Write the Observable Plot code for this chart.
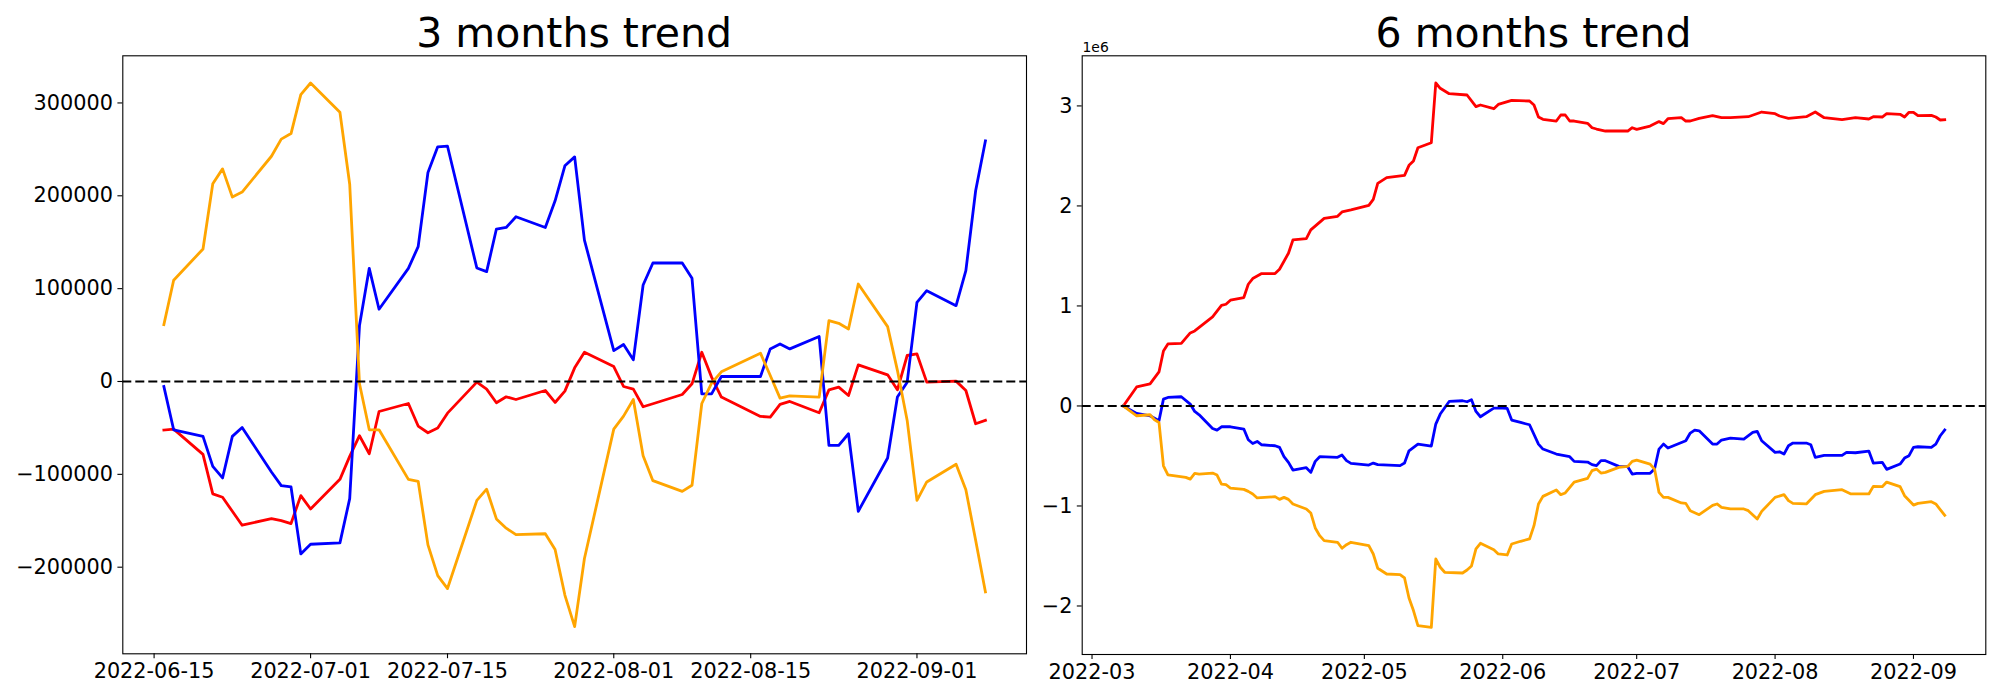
<!DOCTYPE html>
<html>
<head>
<meta charset="utf-8">
<script src="https://cdn.jsdelivr.net/npm/d3@7"></script>
<script src="https://cdn.jsdelivr.net/npm/@observablehq/plot@0.6"></script>
<style>
  html, body { margin: 0; padding: 0; background: #ffffff; }
  #fig { position: relative; width: 2000px; height: 700px; background: #ffffff; font-family: "DejaVu Sans", sans-serif; }
  #fig > .panel { position: absolute; top: 0; }
  #fig svg { overflow: visible; }
  #overlay { position: absolute; left: 0; top: 0; pointer-events: none; }
</style>
</head>
<body>
<div id="fig"></div>
<script>
// ---------------- 3 months trend (left panel) ----------------
const leftDates = ["2022-06-16","2022-06-17","2022-06-20","2022-06-21","2022-06-22","2022-06-23","2022-06-24","2022-06-27","2022-06-28","2022-06-29","2022-06-30",
  "2022-07-01","2022-07-04","2022-07-05","2022-07-06","2022-07-07","2022-07-08","2022-07-11","2022-07-12","2022-07-13","2022-07-14","2022-07-15","2022-07-18","2022-07-19","2022-07-20","2022-07-21","2022-07-22","2022-07-25","2022-07-26","2022-07-27","2022-07-28","2022-07-29",
  "2022-08-01","2022-08-02","2022-08-03","2022-08-04","2022-08-05","2022-08-08","2022-08-09","2022-08-10","2022-08-11","2022-08-12","2022-08-16","2022-08-17","2022-08-18","2022-08-19","2022-08-22","2022-08-23","2022-08-24","2022-08-25","2022-08-26","2022-08-29","2022-08-30","2022-08-31",
  "2022-09-01","2022-09-02","2022-09-05","2022-09-06","2022-09-07","2022-09-08"];

const leftRed = [-52300,-51300,-78500,-121100,-124700,-139800,-154800,-147700,-149800,-153000,-122900,
  -137300,-105400,-80600,-58400,-77800,-32300,-23700,-48000,-55200,-50200,-34100,-700,-8200,-22900,-16500,-19400,-9700,-22600,-10400,14700,31500,
  16100,-5400,-8200,-27200,-24000,-14000,-2500,31500,4700,-16800,-37600,-38400,-24700,-21500,-33700,-9000,-6100,-15100,17900,7200,-9000,28000,
  29700,-700,400,-9700,-45500,-41900];

const leftBlue = [-5400,-52000,-59100,-91400,-103900,-59100,-49500,-97500,-112200,-113600,-185700,
  -175300,-173800,-126200,60200,121900,77800,121900,145200,225100,252700,253400,122200,118300,164200,165900,177400,165900,194600,232300,241900,152300,
  33300,39800,23300,103900,127600,127600,111100,-13300,-13300,5400,5400,35100,40500,35100,48400,-68800,-68800,-56300,-139800,-82400,-16800,-700,
  85300,97800,81700,119400,205400,259100];

const leftOrange = [61300,109000,142700,213000,229000,198600,204000,242600,261000,267000,309000,
  321500,290000,212500,-2500,-52000,-52000,-105400,-107500,-176000,-209000,-223000,-128000,-116000,-148000,-158000,-165000,-164000,-181000,-230000,-264000,-190700,
  -51300,-37300,-19400,-80000,-106800,-118300,-111800,-23700,-1800,10400,30500,6500,-17900,-15400,-16800,65600,62700,56600,105000,59100,12000,-41900,
  -128000,-108200,-89200,-116500,-171000,-226500];

const leftXTicks = ["2022-06-15","2022-07-01","2022-07-15","2022-08-01","2022-08-15","2022-09-01"];
const leftYTicks = [-200000,-100000,0,100000,200000,300000];

// ---------------- 6 months trend (right panel), values in millions (1e6) ----------------
const rightRedDates = ["2022-03-08","2022-03-11","2022-03-14","2022-03-16","2022-03-17","2022-03-18","2022-03-21","2022-03-23","2022-03-24","2022-03-28","2022-03-30","2022-03-31",
  "2022-04-01","2022-04-04","2022-04-05","2022-04-06","2022-04-08","2022-04-11","2022-04-12","2022-04-14","2022-04-15","2022-04-18","2022-04-19","2022-04-22","2022-04-25","2022-04-26","2022-04-28",
  "2022-05-02","2022-05-03","2022-05-04","2022-05-06","2022-05-10","2022-05-11","2022-05-12","2022-05-13","2022-05-16","2022-05-17","2022-05-18","2022-05-20","2022-05-24","2022-05-26","2022-05-27","2022-05-30","2022-05-31",
  "2022-06-03","2022-06-07","2022-06-08","2022-06-09","2022-06-10","2022-06-13","2022-06-14","2022-06-15","2022-06-16","2022-06-17","2022-06-20","2022-06-21","2022-06-22","2022-06-24","2022-06-29","2022-06-30",
  "2022-07-01","2022-07-04","2022-07-06","2022-07-07","2022-07-08","2022-07-11","2022-07-12","2022-07-13","2022-07-15","2022-07-18","2022-07-20","2022-07-22","2022-07-26","2022-07-29",
  "2022-08-01","2022-08-02","2022-08-04","2022-08-08","2022-08-10","2022-08-12","2022-08-16","2022-08-19","2022-08-22","2022-08-23","2022-08-25","2022-08-26","2022-08-29","2022-08-30","2022-08-31",
  "2022-09-01","2022-09-02","2022-09-05","2022-09-06","2022-09-07","2022-09-08"];
const rightRed = [0,0.19,0.22,0.34,0.55,0.62,0.625,0.73,0.75,0.89,1.005,1.017,
  1.057,1.084,1.217,1.274,1.324,1.324,1.367,1.527,1.66,1.673,1.76,1.876,1.896,1.94,1.96,
  2.006,2.066,2.226,2.283,2.306,2.406,2.449,2.582,2.632,3.229,3.176,3.122,3.109,2.993,3.009,2.972,3.015,
  3.056,3.049,3.009,2.889,2.866,2.849,2.909,2.909,2.849,2.849,2.826,2.782,2.769,2.749,2.749,2.782,
  2.766,2.799,2.843,2.823,2.872,2.882,2.849,2.849,2.876,2.902,2.882,2.882,2.892,2.939,
  2.922,2.899,2.876,2.892,2.939,2.882,2.862,2.882,2.869,2.892,2.889,2.922,2.916,2.889,2.936,
  2.936,2.902,2.906,2.889,2.859,2.862];

const rightBlueDates = ["2022-03-08","2022-03-11","2022-03-14","2022-03-16","2022-03-17","2022-03-18","2022-03-21","2022-03-23","2022-03-24","2022-03-25","2022-03-28","2022-03-29","2022-03-30",
  "2022-04-01","2022-04-04","2022-04-05","2022-04-06","2022-04-07","2022-04-08","2022-04-11","2022-04-12","2022-04-13","2022-04-14","2022-04-15","2022-04-18","2022-04-19","2022-04-20","2022-04-21","2022-04-25","2022-04-26","2022-04-27","2022-04-28",
  "2022-05-02","2022-05-03","2022-05-04","2022-05-09","2022-05-10","2022-05-11","2022-05-13","2022-05-16","2022-05-17","2022-05-18","2022-05-20","2022-05-23","2022-05-24","2022-05-25","2022-05-26","2022-05-27","2022-05-30",
  "2022-06-01","2022-06-02","2022-06-03","2022-06-05","2022-06-07","2022-06-09","2022-06-10","2022-06-13","2022-06-16","2022-06-17","2022-06-20","2022-06-21","2022-06-22","2022-06-23","2022-06-24","2022-06-27","2022-06-29","2022-06-30",
  "2022-07-01","2022-07-04","2022-07-05","2022-07-06","2022-07-07","2022-07-08","2022-07-12","2022-07-13","2022-07-14","2022-07-15","2022-07-18","2022-07-19","2022-07-20","2022-07-22","2022-07-25","2022-07-27","2022-07-28","2022-07-29",
  "2022-08-01","2022-08-02","2022-08-03","2022-08-04","2022-08-05","2022-08-08","2022-08-09","2022-08-10","2022-08-12","2022-08-16","2022-08-17","2022-08-19","2022-08-22","2022-08-23","2022-08-25","2022-08-26","2022-08-29","2022-08-30","2022-08-31",
  "2022-09-01","2022-09-02","2022-09-05","2022-09-06","2022-09-07","2022-09-08"];
const rightBlue = [0,-0.075,-0.098,-0.148,0.068,0.085,0.092,0.019,-0.055,-0.088,-0.225,-0.241,-0.208,
  -0.208,-0.231,-0.338,-0.375,-0.355,-0.388,-0.398,-0.414,-0.507,-0.564,-0.641,-0.617,-0.664,-0.554,-0.507,-0.514,-0.491,-0.547,-0.574,
  -0.591,-0.571,-0.587,-0.597,-0.571,-0.448,-0.381,-0.401,-0.181,-0.081,0.045,0.052,0.042,0.062,-0.055,-0.108,-0.022,
  -0.022,-0.025,-0.141,-0.165,-0.188,-0.381,-0.431,-0.481,-0.507,-0.554,-0.561,-0.587,-0.597,-0.547,-0.547,-0.604,-0.607,-0.681,
  -0.674,-0.674,-0.631,-0.431,-0.381,-0.421,-0.348,-0.271,-0.241,-0.248,-0.381,-0.381,-0.341,-0.321,-0.331,-0.265,-0.254,-0.348,
  -0.464,-0.458,-0.481,-0.398,-0.371,-0.371,-0.388,-0.514,-0.494,-0.494,-0.464,-0.468,-0.451,-0.571,-0.564,-0.634,-0.581,-0.521,-0.497,
  -0.414,-0.408,-0.414,-0.381,-0.298,-0.241];

const rightOrangeDates = ["2022-03-08","2022-03-11","2022-03-14","2022-03-15","2022-03-16","2022-03-17","2022-03-18","2022-03-22","2022-03-23","2022-03-24","2022-03-25","2022-03-28","2022-03-29","2022-03-30","2022-03-31",
  "2022-04-01","2022-04-04","2022-04-05","2022-04-06","2022-04-07","2022-04-11","2022-04-12","2022-04-13","2022-04-14","2022-04-15","2022-04-18","2022-04-19","2022-04-20","2022-04-21","2022-04-22","2022-04-25","2022-04-26","2022-04-27","2022-04-28",
  "2022-05-02","2022-05-03","2022-05-04","2022-05-06","2022-05-09","2022-05-10","2022-05-11","2022-05-12","2022-05-13","2022-05-16","2022-05-17","2022-05-18","2022-05-19","2022-05-23","2022-05-24","2022-05-25","2022-05-26","2022-05-27","2022-05-30","2022-05-31",
  "2022-06-02","2022-06-03","2022-06-05","2022-06-07","2022-06-08","2022-06-09","2022-06-10","2022-06-13","2022-06-14","2022-06-15","2022-06-17","2022-06-20","2022-06-21","2022-06-22","2022-06-23","2022-06-24","2022-06-27","2022-06-29","2022-06-30",
  "2022-07-01","2022-07-04","2022-07-05","2022-07-06","2022-07-07","2022-07-08","2022-07-11","2022-07-12","2022-07-13","2022-07-15","2022-07-18","2022-07-19","2022-07-20","2022-07-22","2022-07-25","2022-07-26","2022-07-28","2022-07-29",
  "2022-08-01","2022-08-03","2022-08-04","2022-08-05","2022-08-08","2022-08-10","2022-08-12","2022-08-16","2022-08-18","2022-08-22","2022-08-23","2022-08-25","2022-08-26","2022-08-29","2022-08-30",
  "2022-09-01","2022-09-02","2022-09-05","2022-09-06","2022-09-08"];
const rightOrange = [0,-0.098,-0.088,-0.138,-0.165,-0.598,-0.688,-0.714,-0.731,-0.674,-0.681,-0.671,-0.691,-0.781,-0.787,
  -0.821,-0.834,-0.854,-0.880,-0.920,-0.907,-0.934,-0.914,-0.934,-0.980,-1.030,-1.070,-1.220,-1.297,-1.347,-1.363,-1.423,-1.387,-1.363,
  -1.397,-1.480,-1.623,-1.680,-1.686,-1.720,-1.920,-2.046,-2.196,-2.213,-1.530,-1.613,-1.663,-1.670,-1.640,-1.600,-1.430,-1.373,-1.437,-1.480,
  -1.490,-1.380,-1.353,-1.330,-1.197,-0.980,-0.904,-0.840,-0.887,-0.870,-0.761,-0.724,-0.647,-0.631,-0.671,-0.664,-0.614,-0.604,-0.554,
  -0.541,-0.581,-0.631,-0.864,-0.914,-0.914,-0.970,-0.974,-1.047,-1.087,-0.994,-0.980,-1.014,-1.030,-1.030,-1.047,-1.130,-1.054,
  -0.914,-0.887,-0.947,-0.974,-0.980,-0.887,-0.854,-0.837,-0.880,-0.880,-0.804,-0.807,-0.761,-0.807,-0.897,
  -0.991,-0.974,-0.957,-0.980,-1.094];

const rightXTicks = ["2022-03-01","2022-04-01","2022-05-01","2022-06-01","2022-07-01","2022-08-01","2022-09-01"];
const rightYTicks = [-2,-1,0,1,2,3];

const titles = ["3 months trend", "6 months trend"];
const offsetLabel = "1e6";

// ---------------- helpers ----------------
const parse = d3.utcParse("%Y-%m-%d");
const rows = (dates, values) => dates.map((d, i) => ({date: parse(d), value: values[i]}));
const pad = ([lo, hi]) => { const p = (hi - lo) * 0.05; return [lo - p, hi + p]; };
const padDates = (dates) => {
  const [a, b] = d3.extent(dates, d => +parse(d));
  const p = (b - a) * 0.05;
  return [new Date(a - p), new Date(b + p)];
};
const minusFmt = v => (v < 0 ? "\u2212" + Math.abs(v) : String(v));

const COLORS = {red: "#ff0000", blue: "#0000ff", orange: "#ffa500"};
const LW = 2.8;

function panel({width, margins, xDomain, yDomain, xTicks, xFmt, yTicks, series}) {
  return Plot.plot({
    width, height: 700,
    marginLeft: margins[0], marginRight: margins[1], marginTop: margins[2], marginBottom: margins[3],
    style: {fontFamily: "DejaVu Sans", fontSize: "20.8px", color: "#000", background: "transparent", overflow: "visible"},
    x: {type: "utc", domain: xDomain},
    y: {type: "linear", domain: yDomain},
    marks: [
      ...series.map(s => Plot.line(s.data, {x: "date", y: "value", stroke: s.color, strokeWidth: LW, strokeLinejoin: "round", strokeLinecap: "square"})),
      Plot.ruleY([0], {stroke: "#000", strokeWidth: 2, strokeDasharray: "9,4"}),
      Plot.frame({stroke: "#000", strokeWidth: 1.1}),
      Plot.axisX({ticks: xTicks.map(parse), tickFormat: xFmt, tickSize: 4.9, tickPadding: 4.9, strokeWidth: 1.1, label: null, fontSize: 20.8}),
      Plot.axisY({ticks: yTicks, tickFormat: minusFmt, tickSize: 4.9, tickPadding: 4.9, strokeWidth: 1.1, label: null, fontSize: 20.8})
    ]
  });
}

const fig = document.getElementById("fig");

// left panel
const leftSeries = [
  {color: COLORS.red, data: rows(leftDates, leftRed)},
  {color: COLORS.blue, data: rows(leftDates, leftBlue)},
  {color: COLORS.orange, data: rows(leftDates, leftOrange)}
];
const leftPlot = panel({
  width: 1040,
  margins: [122.3, 14, 55.3, 46.7],
  xDomain: padDates(leftDates),
  yDomain: pad(d3.extent([...leftRed, ...leftBlue, ...leftOrange])),
  xTicks: leftXTicks, xFmt: d3.utcFormat("%Y-%m-%d"),
  yTicks: leftYTicks,
  series: leftSeries
});
const leftDiv = document.createElement("div");
leftDiv.className = "panel"; leftDiv.style.left = "0px";
leftDiv.appendChild(leftPlot);
fig.appendChild(leftDiv);

// right panel
const rightSeries = [
  {color: COLORS.red, data: rows(rightRedDates, rightRed)},
  {color: COLORS.blue, data: rows(rightBlueDates, rightBlue)},
  {color: COLORS.orange, data: rows(rightOrangeDates, rightOrange)}
];
const rightPlot = panel({
  width: 960,
  margins: [41.7, 14.7, 55.3, 46],
  xDomain: padDates([...rightRedDates, ...rightBlueDates, ...rightOrangeDates]),
  yDomain: pad(d3.extent([...rightRed, ...rightBlue, ...rightOrange])),
  xTicks: rightXTicks, xFmt: d3.utcFormat("%Y-%m"),
  yTicks: rightYTicks,
  series: rightSeries
});
const rightDiv = document.createElement("div");
rightDiv.className = "panel"; rightDiv.style.left = "1040px";
rightDiv.appendChild(rightPlot);
fig.appendChild(rightDiv);

// titles and offset label
const overlay = d3.select(fig).append("svg")
  .attr("id", "overlay").attr("width", 2000).attr("height", 700);
overlay.selectAll("text.title").data([
  {t: titles[0], x: (122.3 + 1026) / 2},
  {t: titles[1], x: (1081.7 + 1985.3) / 2}
]).join("text")
  .attr("class", "title")
  .attr("x", d => d.x).attr("y", 47)
  .attr("text-anchor", "middle")
  .attr("font-family", "DejaVu Sans").attr("font-size", 41)
  .attr("fill", "#000")
  .text(d => d.t);
overlay.append("text")
  .attr("x", 1082.5).attr("y", 51.5)
  .attr("font-family", "DejaVu Sans").attr("font-size", 13.9)
  .attr("fill", "#000")
  .text(offsetLabel);
</script>
</body>
</html>
